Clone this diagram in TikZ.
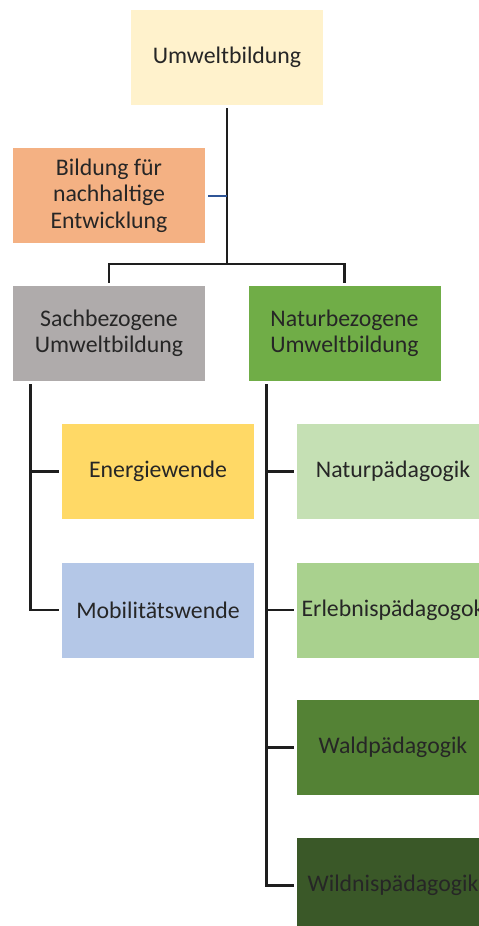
\documentclass[tikz,border=0pt]{standalone}
\usepackage{fontspec}
\setmainfont{Carlito}
\begin{document}
\begin{tikzpicture}[x=1pt,y=1pt,
  box/.style={rectangle, minimum width=192pt, minimum height=95pt, inner sep=0pt,
    align=center, text=txt, font=\fontsize{23.8}{26.5}\selectfont},
  conn/.style={draw=lineblack, line width=2.8pt},
  blueconn/.style={draw=lineblue, line width=2pt}]
\definecolor{txt}{HTML}{262626}
\definecolor{lineblack}{HTML}{1E1E1E}
\definecolor{lineblue}{HTML}{2F5597}
\definecolor{cTop}{HTML}{FFF2CC}
\definecolor{cBne}{HTML}{F4B183}
\definecolor{cSach}{HTML}{AFABAB}
\definecolor{cNatur}{HTML}{70AD47}
\definecolor{cEner}{HTML}{FFD966}
\definecolor{cMob}{HTML}{B4C7E7}
\definecolor{cNp}{HTML}{C5E0B4}
\definecolor{cErl}{HTML}{A9D18E}
\definecolor{cWald}{HTML}{548235}
\definecolor{cWild}{HTML}{3A5828}
\useasboundingbox (0,0) rectangle (479,-926);
\clip (0,0) rectangle (479,-926);
\fill[white] (0,0) rectangle (479,-926);

\node[box, fill=cTop] (top) at (227,-57.5) {Umweltbildung};
\node[box, fill=cBne] (bne) at (109,-195.5) {Bildung für\\nachhaltige\\Entwicklung};
\node[box, fill=cSach] (sach) at (109,-333.5) {Sachbezogene\\Umweltbildung};
\node[box, fill=cNatur] (natur) at (344.5,-333.5) {Naturbezogene\\Umweltbildung};
\node[box, fill=cEner] (ener) at (158,-471.5) {Energiewende};
\node[box, fill=cMob] (mob) at (158,-610) {Mobilitätswende};
\node[box, fill=cNp] (np) at (393,-471.5) {Naturpädagogik};
\node[box, fill=cErl] (erl) at (393,-610) {Erlebnispädagogok};
\node[box, fill=cWald] (wald) at (393,-747.5) {Waldpädagogik};
\node[box, fill=cWild] (wild) at (393,-885.5) {Wildnispädagogik};

\coordinate (split) at (227,-264);

% top trunk
\draw[conn] ([yshift=-3]top.south) -- (split);
\draw[conn] ([yshift=3]sach.north) -- (sach.north |- split) -- (natur.north |- split) -- ([yshift=3]natur.north);
\draw[blueconn] ([xshift=3]bne.east) -- (top.south |- bne.east);

% left branch
\draw[conn] ([xshift=18,yshift=-3]sach.south west) |- ([xshift=-3]mob.west);
\draw[conn] ([xshift=18]sach.south west |- ener.west) -- ([xshift=-3]ener.west);

% right branch
\draw[conn] ([xshift=18,yshift=-3]natur.south west) |- ([xshift=-3]wild.west);
\draw[conn] ([xshift=18]natur.south west |- np.west) -- ([xshift=-3]np.west);
\draw[conn] ([xshift=18]natur.south west |- erl.west) -- ([xshift=-3]erl.west);
\draw[conn] ([xshift=18]natur.south west |- wald.west) -- ([xshift=-3]wald.west);
\end{tikzpicture}
\end{document}
